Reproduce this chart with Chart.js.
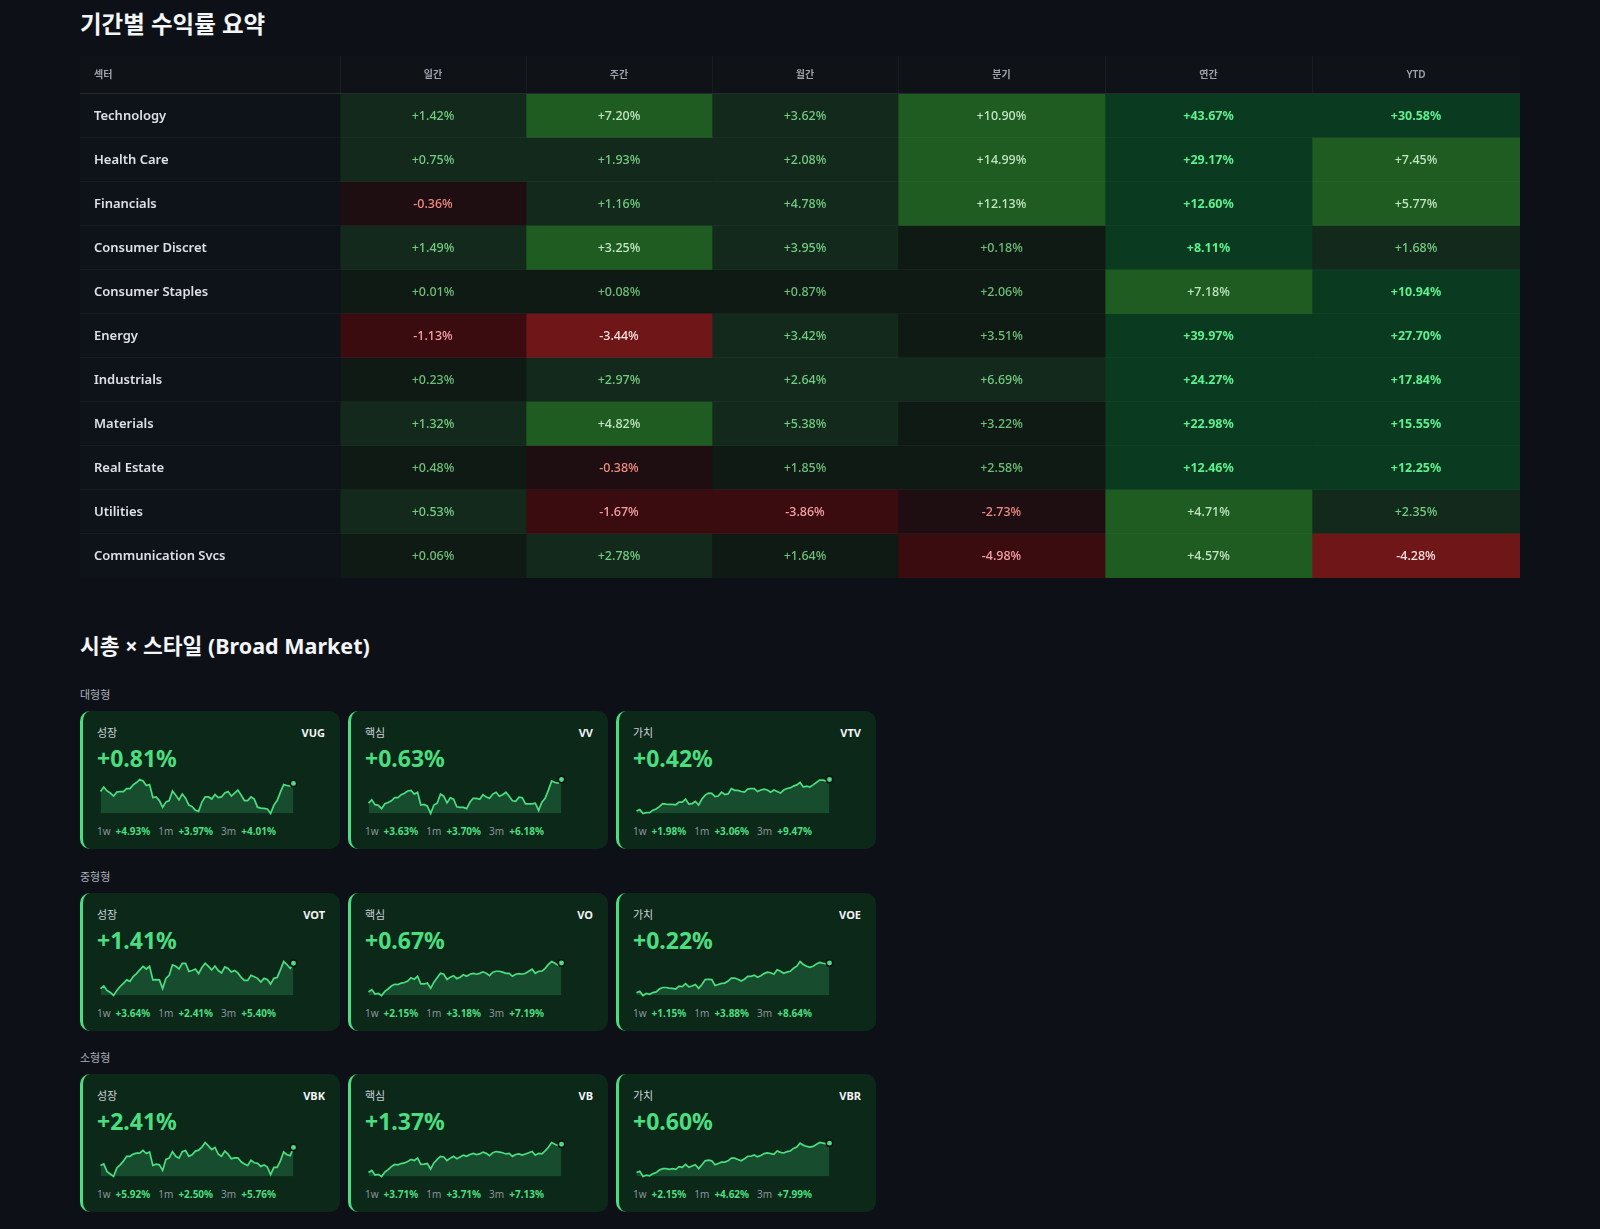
<!DOCTYPE html>
<html lang="ko">
<head>
<meta charset="utf-8">
<title>기간별 수익률 요약</title>
<script src="https://cdn.jsdelivr.net/npm/chart.js@4.4.1/dist/chart.umd.min.js"></script>
<style>
  body { margin: 0; background: #0d1117; color: #e6edf3; font-family: "Noto Sans", "Noto Sans CJK KR", sans-serif; }
  .wrap { width: 1440px; padding: 9px 80px 20px; }
  h2 { margin: 0; font-size: 23.5px; line-height: 30px; font-weight: 700; color: #f3f5f7;
       font-family: "Noto Sans", "Noto Sans CJK KR", sans-serif; }
  .table-box { position: relative; width: 1440px; height: 522px; margin-top: 17px; }
  h2.second { margin-top: 53px; font-size: 21.5px; }
  .cap { margin-top: 0; font-size: 11px; line-height: 14px; color: #a9b1ba; margin-bottom: 10px;
         font-family: "Noto Sans CJK KR", "Noto Sans", sans-serif; }
  .cap.first { margin-top: 26px; }
  .row { display: flex; gap: 8px; margin-bottom: 19.5px; }
  .card { box-sizing: border-box; width: 260px; height: 138px; background: #0c2819; border-left: 3px solid #4ade80;
          border-radius: 10px; padding: 14px 15px 0 14px; }
  .head { display: flex; justify-content: space-between; font-size: 11px; line-height: 15px; }
  .head .st { color: #c9d1d9; font-family: "Noto Sans CJK KR", "Noto Sans", sans-serif; }
  .head .tk { color: #f2f4f6; font-weight: 700; }
  .pct { margin-top: 5px; font-size: 23px; line-height: 26px; font-weight: 700; color: #4ade80; }
  .spark { position: relative; width: 204px; height: 45px; margin-top: 3px; margin-left: -2px; }
  .foot { margin-top: 5px; font-size: 10px; line-height: 15px; color: #8b949e; white-space: nowrap; }
  .foot b { color: #4ade80; font-weight: 700; margin: 0 8px 0 5px; }
</style>
</head>
<body>
<div class="wrap">
  <h2>기간별 수익률 요약</h2>
  <div class="table-box"><canvas id="returnsTable"></canvas></div>
  <h2 class="second">시총 × 스타일 (Broad Market)</h2>
  <div id="styleGrid"></div>
</div>
<script>
const SECTORS = ['Technology', 'Health Care', 'Financials', 'Consumer Discret', 'Consumer Staples', 'Energy',
                 'Industrials', 'Materials', 'Real Estate', 'Utilities', 'Communication Svcs'];
const PERIODS = ['일간', '주간', '월간', '분기', '연간', 'YTD'];

const RET_DAY   = [1.42, 0.75, -0.36, 1.49, 0.01, -1.13, 0.23, 1.32, 0.48, 0.53, 0.06];
const RET_WEEK  = [7.20, 1.93, 1.16, 3.25, 0.08, -3.44, 2.97, 4.82, -0.38, -1.67, 2.78];
const RET_MONTH = [3.62, 2.08, 4.78, 3.95, 0.87, 3.42, 2.64, 5.38, 1.85, -3.86, 1.64];
const RET_QTR   = [10.90, 14.99, 12.13, 0.18, 2.06, 3.51, 6.69, 3.22, 2.58, -2.73, -4.98];
const RET_YEAR  = [43.67, 29.17, 12.60, 8.11, 7.18, 39.97, 24.27, 22.98, 12.46, 4.71, 4.57];
const RET_YTD   = [30.58, 7.45, 5.77, 1.68, 10.94, 27.70, 17.84, 15.55, 12.25, 2.35, -4.28];

const CAP_GROUPS = ['대형형', '중형형', '소형형'];
const STYLES = ['성장', '핵심', '가치'];
const TICKERS = [['VUG', 'VV', 'VTV'], ['VOT', 'VO', 'VOE'], ['VBK', 'VB', 'VBR']];
const DAY_CHG = [[0.81, 0.63, 0.42], [1.41, 0.67, 0.22], [2.41, 1.37, 0.60]];
const CHG_1W  = [[4.93, 3.63, 1.98], [3.64, 2.15, 1.15], [5.92, 3.71, 2.15]];
const CHG_1M  = [[3.97, 3.70, 3.06], [2.41, 3.18, 3.88], [2.50, 3.71, 4.62]];
const CHG_3M  = [[4.01, 6.18, 9.47], [5.40, 7.19, 8.64], [5.76, 7.13, 7.99]];

// sparkline levels (relative index)
const SPARK_VUG = [80,95,82,75,65,78,80,80,90,90,102,110,120,115,100,103,60,62,50,28,45,50,82,68,52,72,58,35,30,18,
                   14,45,62,62,55,70,60,62,75,80,65,75,85,68,50,50,62,55,28,25,24,22,7,35,50,78,103,100,98,107];
const SPARK_VV  = [42,53,37,35,24,40,44,50,60,60,70,75,82,84,72,78,36,38,32,8,36,42,72,65,43,60,55,30,28,28,
                   24,45,58,58,55,70,62,58,72,78,65,70,78,65,50,48,62,60,40,40,40,42,18,45,58,85,115,110,108,120];
const SPARK_VTV = [15,20,7,10,10,18,22,30,40,38,37,37,36,45,45,55,38,40,47,35,55,68,75,74,63,65,78,70,72,90,
                   84,84,80,78,88,90,90,80,85,88,85,78,85,80,75,85,90,92,98,102,110,95,98,95,102,110,118,118,115,120];
const SPARK_VOT = [28,37,22,15,5,22,35,45,57,52,68,78,90,102,93,102,57,58,57,28,62,72,107,102,93,112,112,85,88,93,
                   78,98,112,102,90,103,88,80,100,95,83,88,80,65,55,55,72,67,62,50,62,58,43,62,65,90,118,108,95,112];
const SPARK_VO  = [15,23,8,10,3,17,25,35,41,40,45,47,52,63,58,68,42,42,45,27,48,63,78,75,57,65,70,60,65,73,
                   68,75,78,75,78,83,78,70,82,85,85,82,78,78,68,75,77,75,78,85,92,78,85,85,95,108,118,112,105,113];
const SPARK_VOE = [12,17,3,10,7,13,15,25,30,30,28,27,25,35,33,43,32,35,40,27,40,57,58,57,37,40,44,45,52,62,
                   62,58,52,58,68,68,72,65,70,77,82,80,75,90,85,78,82,85,95,102,118,108,102,98,102,110,115,112,110,113];
const SPARK_VBK = [43,48,23,15,7,35,45,57,73,73,80,83,83,92,82,87,43,47,45,27,63,67,88,73,67,88,92,73,78,90,
                   93,103,118,107,95,102,80,73,90,80,65,68,68,55,48,43,60,52,50,40,45,38,13,37,37,58,87,78,75,102];
const SPARK_VB  = [18,25,10,12,5,20,28,38,45,44,48,50,55,62,58,66,45,46,48,30,50,62,72,70,58,66,72,64,70,76,
                   72,78,82,78,80,86,82,74,84,88,86,84,80,82,72,78,80,76,80,84,88,76,82,80,90,102,118,112,108,112];
const SPARK_VBR = [20,24,8,12,10,16,20,28,32,32,30,32,30,38,36,45,36,40,44,32,44,56,58,56,44,48,52,52,56,64,
                   64,60,56,62,70,70,74,68,72,78,80,78,76,86,82,80,84,86,94,98,110,104,100,98,100,106,112,110,108,110];
const SPARKS = { VUG: SPARK_VUG, VV: SPARK_VV, VTV: SPARK_VTV, VOT: SPARK_VOT, VO: SPARK_VO,
                 VOE: SPARK_VOE, VBK: SPARK_VBK, VB: SPARK_VB, VBR: SPARK_VBR };

const Chart = globalThis.Chart;
const GREEN = '#4ade80';
const FONT = '"Noto Sans", "Noto Sans CJK KR", sans-serif';

// table layout, px: sector column then one per period
const COL_W = [260, 186, 186, 186, 207, 207, 208];
const HEAD_H = 38;
const EDGES = COL_W.reduce((acc, w) => { acc.push(acc[acc.length - 1] + w); return acc; }, [0]);

// heat levels; cut points differ per period (longer periods need bigger moves)
const POS_LV = [
  { bg: '#0f1a14', fg: '#6cbf78' },
  { bg: '#12291b', fg: '#74cc82' },
  { bg: '#1e5c22', fg: '#c2e6c2' },
  { bg: '#0a3a1f', fg: '#5ef08f', bold: true },
];
const NEG_LV = [
  { bg: '#1e0e12', fg: '#f28b82' },
  { bg: '#3a0c10', fg: '#f6a3a3' },
  { bg: '#6e1618', fg: '#ffe2e2' },
];
const CUTS = [
  [[0.5, 3, Infinity], [0.5, 3]],
  [[0.5, 3, Infinity], [0.5, 3]],
  [[2, 6, Infinity], [1, 6]],
  [[5, 10, Infinity], [3, 10]],
  [[2, 4, 8], [2, 4]],
  [[1, 4, 10], [1, 4]],
];

function level(v, c) {
  const [p, n] = CUTS[c];
  if (v >= 0) {
    const i = p.findIndex(t => v < t);
    return POS_LV[i < 0 ? 3 : i];
  }
  const i = n.findIndex(t => -v < t);
  return NEG_LV[i < 0 ? 2 : i];
}

const fmt = v => (v >= 0 ? '+' : '') + v.toFixed(2) + '%';

const RET_COLS = [RET_DAY, RET_WEEK, RET_MONTH, RET_QTR, RET_YEAR, RET_YTD];

const tableTextPlugin = {
  id: 'tableText',
  beforeDatasetsDraw(chart) {
    const { ctx, chartArea: a } = chart;
    ctx.save();
    ctx.fillStyle = '#0f1217';
    ctx.fillRect(a.left, 0, a.width, HEAD_H);
    ctx.restore();
  },
  afterDatasetsDraw(chart) {
    const { ctx, chartArea: a, scales: { x, y } } = chart;
    ctx.save();

    // header separators
    ctx.strokeStyle = '#171b22';
    ctx.lineWidth = 1;
    for (let i = 1; i < EDGES.length - 1; i++) {
      const px = Math.round(x.getPixelForValue(EDGES[i])) + 0.5;
      ctx.beginPath(); ctx.moveTo(px, 0); ctx.lineTo(px, HEAD_H); ctx.stroke();
    }
    ctx.strokeStyle = '#262a33';
    ctx.beginPath(); ctx.moveTo(a.left, HEAD_H - 0.5); ctx.lineTo(a.right, HEAD_H - 0.5); ctx.stroke();

    // row separators
    ctx.strokeStyle = 'rgba(255,255,255,0.035)';
    for (let r = 1; r < SECTORS.length; r++) {
      const py = Math.round((y.getPixelForValue(r - 1) + y.getPixelForValue(r)) / 2) - 0.5;
      ctx.beginPath(); ctx.moveTo(a.left, py); ctx.lineTo(a.right, py); ctx.stroke();
    }

    // header labels
    ctx.textBaseline = 'middle';
    ctx.font = '600 10px ' + FONT;
    ctx.fillStyle = '#9ea3ab';
    ctx.textAlign = 'left';
    ctx.fillText('섹터', a.left + 14, HEAD_H / 2);
    ctx.textAlign = 'center';
    PERIODS.forEach((p, c) => {
      ctx.fillText(p, x.getPixelForValue((EDGES[c + 1] + EDGES[c + 2]) / 2), HEAD_H / 2);
    });

    // sector names
    ctx.textAlign = 'left';
    ctx.font = '600 13px ' + FONT;
    ctx.fillStyle = '#dde1e7';
    SECTORS.forEach((s, r) => ctx.fillText(s, a.left + 14, y.getPixelForValue(r)));

    // cell values
    ctx.textAlign = 'center';
    RET_COLS.forEach((vals, c) => {
      const cx = x.getPixelForValue((EDGES[c + 1] + EDGES[c + 2]) / 2);
      vals.forEach((v, r) => {
        const lv = level(v, c);
        ctx.font = (lv.bold ? '700' : '500') + ' 12.5px ' + FONT;
        ctx.fillStyle = lv.fg;
        ctx.fillText(fmt(v), cx, y.getPixelForValue(r));
      });
    });
    ctx.restore();
  },
};

const tableDatasets = [
  { data: SECTORS.map(() => [EDGES[0], EDGES[1]]), backgroundColor: '#0e1219' },
  ...RET_COLS.map((vals, c) => ({
    label: PERIODS[c],
    data: vals.map(() => [EDGES[c + 1], EDGES[c + 2]]),
    backgroundColor: vals.map(v => level(v, c).bg),
  })),
].map(ds => ({ ...ds, barPercentage: 1, categoryPercentage: 1, grouped: false, borderWidth: 0, borderSkipped: false }));

new Chart(document.getElementById('returnsTable'), {
  type: 'bar',
  data: { labels: SECTORS, datasets: tableDatasets },
  options: {
    indexAxis: 'y',
    responsive: true,
    maintainAspectRatio: false,
    animation: false,
    events: [],
    layout: { padding: { top: HEAD_H } },
    plugins: { legend: { display: false }, tooltip: { enabled: false } },
    scales: {
      x: { type: 'linear', min: 0, max: EDGES[EDGES.length - 1], display: false },
      y: { type: 'category', display: false },
    },
  },
  plugins: [tableTextPlugin],
});

function sparkConfig(series) {
  const last = series.length - 1;
  return {
    type: 'line',
    data: {
      labels: series.map((_, i) => i),
      datasets: [{
        data: series,
        borderColor: GREEN,
        borderWidth: 1.7,
        backgroundColor: 'rgba(74,222,128,0.2)',
        fill: 'start',
        tension: 0,
        clip: false,
        pointRadius: series.map((_, i) => (i === last ? 3.2 : 0)),
        pointBackgroundColor: GREEN,
        pointBorderColor: '#0d1117',
        pointBorderWidth: 1.5,
      }],
    },
    options: {
      responsive: true,
      maintainAspectRatio: false,
      animation: false,
      events: [],
      layout: { padding: { left: 3, right: 5, top: 4.5, bottom: 2 } },
      plugins: { legend: { display: false }, tooltip: { enabled: false } },
      scales: {
        x: { display: false },
        y: { display: false, bounds: 'data' },
      },
    },
  };
}

const grid = document.getElementById('styleGrid');
CAP_GROUPS.forEach((cap, g) => {
  const lab = document.createElement('div');
  lab.className = 'cap' + (g === 0 ? ' first' : '');
  lab.textContent = cap;
  grid.appendChild(lab);

  const row = document.createElement('div');
  row.className = 'row';
  grid.appendChild(row);

  STYLES.forEach((st, s) => {
    const tk = TICKERS[g][s];
    const card = document.createElement('div');
    card.className = 'card';
    card.innerHTML =
      `<div class="head"><span class="st">${st}</span><span class="tk">${tk}</span></div>` +
      `<div class="pct">${fmt(DAY_CHG[g][s])}</div>` +
      `<div class="spark"><canvas></canvas></div>` +
      `<div class="foot">1w<b>${fmt(CHG_1W[g][s])}</b>1m<b>${fmt(CHG_1M[g][s])}</b>3m<b>${fmt(CHG_3M[g][s])}</b></div>`;
    row.appendChild(card);
    new Chart(card.querySelector('canvas'), sparkConfig(SPARKS[tk]));
  });
});
</script>
</body>
</html>
